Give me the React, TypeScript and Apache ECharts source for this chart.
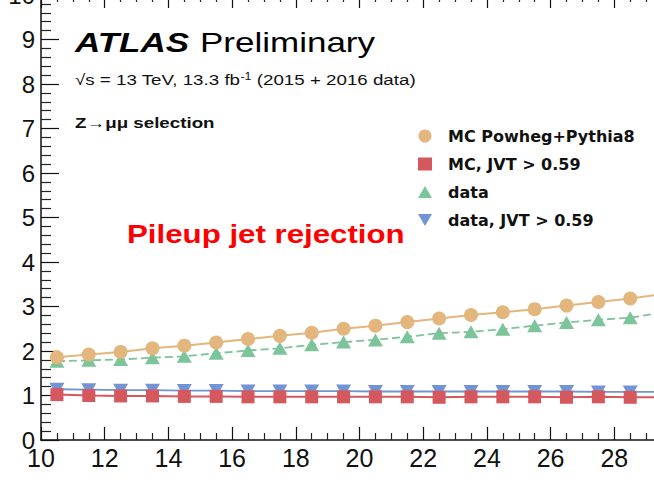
import React, { useEffect, useRef } from "react";
import * as echarts from "echarts";

const xCenters = [10.5, 11.5, 12.5, 13.5, 14.5, 15.5, 16.5, 17.5, 18.5, 19.5, 20.5, 21.5, 22.5, 23.5, 24.5, 25.5, 26.5, 27.5, 28.5, 29.5];
const mcPowheg = [1.86, 1.92, 1.98, 2.06, 2.12, 2.19, 2.27, 2.34, 2.41, 2.5, 2.57, 2.65, 2.73, 2.81, 2.87, 2.94, 3.02, 3.1, 3.18, 3.28];
const mcJvt = [1.02, 1.0, 0.99, 0.99, 0.98, 0.98, 0.97, 0.97, 0.97, 0.97, 0.97, 0.97, 0.96, 0.97, 0.97, 0.97, 0.96, 0.97, 0.96, 0.96];
const dataAll = [1.77, 1.79, 1.81, 1.85, 1.88, 1.95, 2.01, 2.06, 2.14, 2.2, 2.25, 2.32, 2.4, 2.43, 2.49, 2.57, 2.64, 2.7, 2.75, 2.86];
const dataJvt = [1.14, 1.13, 1.12, 1.12, 1.11, 1.11, 1.1, 1.1, 1.1, 1.1, 1.09, 1.09, 1.09, 1.09, 1.09, 1.09, 1.09, 1.08, 1.08, 1.08];

const seriesNames = ["MC Powheg+Pythia8", "MC, JVT > 0.59", "data", "data, JVT > 0.59"];
const colors = ["#e2b67c", "#d4585e", "#7cc49a", "#7094d4"];

const pairs = (ys: number[]) => xCenters.map((x, i) => [x, ys[i]]);
const invTri = "path://M0,0L10,0L5,8.66Z";
const triUp = "path://M5,0L10,8.66L0,8.66Z";
const FONT = "Liberation Sans";

export default function App() {
  const ref = useRef<HTMLDivElement>(null);
  useEffect(() => {
    if (!ref.current) return;
    const chart = echarts.init(ref.current, null, { renderer: "svg" });
    const axisCommon = {
      type: "value" as const,
      min: 10,
      max: 30,
      interval: 2,
      axisLine: { show: true, onZero: false, lineStyle: { color: "#111", width: 1.5 } },
      axisTick: { show: true, inside: true, length: 13, lineStyle: { color: "#111", width: 1.2 } },
      minorTick: { show: true, splitNumber: 4, length: 7, lineStyle: { color: "#222", width: 1.2 } },
      splitLine: { show: false },
    };
    chart.setOption({
      animation: false,
      backgroundColor: "#ffffff",
      grid: { left: 41, right: -24, top: -5, bottom: 51, outerBoundsMode: "none", containLabel: false },
      xAxis: [
        {
          ...axisCommon,
          position: "bottom",
          axisLabel: { show: true, fontFamily: FONT, fontSize: 25, color: "#111", margin: 5, showMaxLabel: false },
        },
        {
          ...axisCommon,
          position: "top",
          axisLabel: { show: false },
        },
      ],
      yAxis: {
        type: "value",
        min: 0,
        max: 10,
        interval: 1,
        axisLine: { show: true, onZero: false, lineStyle: { color: "#111", width: 1.5 } },
        axisTick: { show: true, inside: true, length: 18, lineStyle: { color: "#111", width: 1.2 } },
        minorTick: { show: true, splitNumber: 5, length: 10, lineStyle: { color: "#222", width: 1.2 } },
        splitLine: { show: false },
        axisLabel: { fontFamily: FONT, fontSize: 24, color: "#111", margin: 6 },
      },
      legend: {
        orient: "vertical",
        left: 413,
        top: 123,
        itemWidth: 14,
        itemHeight: 13,
        itemGap: 12,
        selectedMode: false,
        textStyle: {
          fontFamily: "DejaVu Sans",
          fontWeight: "bold",
          fontSize: 16,
          lineHeight: 16,
          color: "#111",
          padding: [0, 0, 0, 11],
        },
        data: [
          { name: seriesNames[0], icon: "circle" },
          { name: seriesNames[1], icon: "rect", itemStyle: {} },
          { name: seriesNames[2], icon: triUp },
          { name: seriesNames[3], icon: invTri },
        ],
      },
      series: [
        {
          name: seriesNames[2],
          type: "line",
          data: pairs(dataAll),
          symbol: "triangle",
          symbolSize: [15, 13],
          itemStyle: { color: colors[2] },
          lineStyle: { color: colors[2], width: 1.8, type: [8, 4] },
        },
        {
          name: seriesNames[3],
          type: "line",
          data: pairs(dataJvt),
          symbol: invTri,
          symbolSize: [15, 13],
          itemStyle: { color: colors[3] },
          lineStyle: { color: colors[3], width: 1.8 },
        },
        {
          name: seriesNames[0],
          type: "line",
          data: pairs(mcPowheg),
          symbol: "circle",
          symbolSize: 14,
          itemStyle: { color: colors[0] },
          lineStyle: { color: colors[0], width: 2 },
        },
        {
          name: seriesNames[1],
          type: "line",
          data: pairs(mcJvt),
          symbol: "rect",
          symbolSize: 13,
          itemStyle: { color: colors[1] },
          lineStyle: { color: colors[1], width: 2 },
        },
      ],
      graphic: [
        {
          type: "text",
          x: 75,
          y: 42,
          scaleX: 1.25,
          style: { x: 0, y: 0, text: "ATLAS", font: `italic bold 28px "${FONT}"`, fill: "#000", align: "left", verticalAlign: "middle" },
        },
        {
          type: "text",
          x: 200,
          y: 42,
          scaleX: 1.25,
          style: { x: 0, y: 0, text: "Preliminary", font: `28px "${FONT}"`, fill: "#000", align: "left", verticalAlign: "middle" },
        },
        {
          type: "text",
          x: 75,
          y: 80,
          scaleX: 1.25,
          style: {
            x: 0,
            y: 0,
            text: "{a|√s = 13 TeV, 13.3 fb}{s|-1}{a| (2015 + 2016 data)}",
            align: "left",
            verticalAlign: "middle",
            rich: {
              a: { fontFamily: FONT, fontSize: 15, fill: "#111", color: "#111" },
              s: { fontFamily: FONT, fontSize: 10, fill: "#111", color: "#111", verticalAlign: "top", padding: [0, 0, 7, 0] },
            },
          },
        },
        {
          type: "text",
          x: 75,
          y: 123,
          scaleX: 1.25,
          style: { x: 0, y: 0, text: "Z→μμ selection", font: `bold 15px "${FONT}"`, fill: "#111", align: "left", verticalAlign: "middle" },
        },
        {
          type: "text",
          x: 127,
          y: 234,
          scaleX: 1.25,
          style: { x: 0, y: 0, text: "Pileup jet rejection", font: `bold 25px "${FONT}"`, fill: "#ff0000", align: "left", verticalAlign: "middle" },
        },
      ],
    });
    return () => chart.dispose();
  }, []);
  return (
    <div
      ref={ref}
      style={{ position: "fixed", left: 0, top: 0, width: 654, height: 491, background: "#fff" }}
    />
  );
}
